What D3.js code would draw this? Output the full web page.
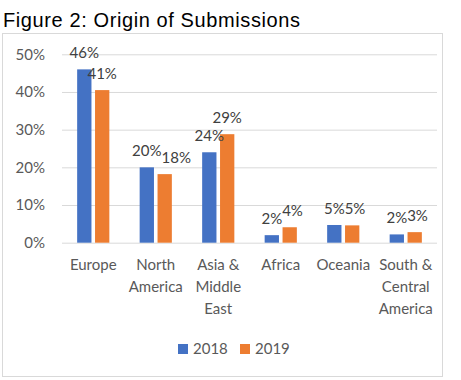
<!DOCTYPE html>
<html>
<head>
<meta charset="utf-8">
<script src="https://cdn.jsdelivr.net/npm/d3@7"></script>
<style>
  body { margin: 0; background: #fff; }
  svg text { font-family: Lato, "Open Sans", sans-serif; }
</style>
</head>
<body>
<div id="chart"></div>
<script>
// origin of submissions, grouped bars 2018 vs 2019

var regions = ["Europe", "North America", "Asia & Middle East", "Africa", "Oceania", "South & Central America"];
var years = ["2018", "2019"];
var values2018 = [0.46, 0.20, 0.24, 0.02, 0.047, 0.022];
var values2019 = [0.405, 0.182, 0.288, 0.041, 0.046, 0.028];
var yTicks = [0, 0.1, 0.2, 0.3, 0.4, 0.5];

var width = 461,
    height = 380;

var colors = { "2018": "#4472C4", "2019": "#ED7D31" };

var svg = d3.select("#chart").append("svg")
    .attr("width", width)
    .attr("height", height);

// title above the box
svg.append("text")
    .attr("x", 3)
    .attr("y", 26.5)
    .style("font-family", "'Liberation Sans', Arial, sans-serif")
    .style("font-size", "20px")
    .style("letter-spacing", "0.6px")
    .attr("fill", "#000")
    .text("Figure 2: Origin of Submissions");

// chart frame
svg.append("rect")
    .attr("x", 2.5).attr("y", 33.5)
    .attr("width", 440).attr("height", 343)
    .attr("fill", "none")
    .attr("stroke", "#D9D9D9");

var plotLeft = 62, plotRight = 437, plotTop = 54.3, plotBottom = 242.7;

var x0 = d3.scaleBand()
    .domain(regions)
    .range([plotLeft, plotRight])
    .paddingInner(0.485)
    .paddingOuter(0.2425);

var x1 = d3.scaleBand()
    .domain(years)
    .range([0, x0.bandwidth()])
    .paddingInner(0.2);

var y = d3.scaleLinear()
    .domain([0, 0.5])
    .range([plotBottom, plotTop]);

// y axis + gridlines
var yAxis = svg.append("g")
    .attr("transform", "translate(" + plotLeft + ",0)")
    .call(d3.axisLeft(y)
        .tickValues(yTicks)
        .tickFormat(d3.format(".0%"))
        .tickSizeInner(-(plotRight - plotLeft))
        .tickSizeOuter(0)
        .tickPadding(17));
yAxis.select(".domain").remove();
yAxis.selectAll(".tick line").attr("stroke", "#D9D9D9");
yAxis.selectAll(".tick text")
    .attr("fill", "#595959")
    .style("font-size", "15px")
    .style("font-family", "Lato, sans-serif");

var rows = regions.map(function(r, i) {
  return { region: r, vals: [
    { year: "2018", v: values2018[i] },
    { year: "2019", v: values2019[i] }
  ]};
});

var groups = svg.selectAll("g.region")
    .data(rows)
    .enter().append("g")
    .attr("class", "region")
    .attr("transform", function(d) { return "translate(" + x0(d.region) + ",0)"; });

groups.selectAll("rect")
    .data(function(d) { return d.vals; })
    .enter().append("rect")
    .attr("x", function(d) { return x1(d.year); })
    .attr("y", function(d) { return y(d.v); })
    .attr("width", x1.bandwidth())
    .attr("height", function(d) { return plotBottom - y(d.v); })
    .attr("fill", function(d) { return colors[d.year]; });

// data labels
groups.each(function() {
  var g = d3.select(this);
  var labels = g.selectAll("text.val")
      .data(function(d) { return d.vals; })
      .enter().append("text")
      .attr("class", "val")
      .attr("x", function(d) { return x1(d.year) + x1.bandwidth() / 2; })
      .attr("y", function(d) { return y(d.v) - 11; })
      .attr("text-anchor", "middle")
      .attr("fill", "#404040")
      .style("font-size", "15px")
      .text(function(d) { return d3.format(".0%")(d.v); });
  // push the 2019 label right if it runs into the 2018 one
  var n = labels.nodes(), a = n[0].getBBox(), b = n[1].getBBox();
  var vOverlap = Math.abs(a.y - b.y) < a.height * 0.8;
  var hOverlap = a.x + a.width - b.x;
  if (vOverlap && hOverlap > 0) {
    d3.select(n[1]).attr("x", +d3.select(n[1]).attr("x") + hOverlap);
  }
});

// category labels, wrapped to band width
svg.append("g").selectAll("text")
    .data(regions)
    .enter().append("text")
    .attr("x", function(d) { return x0(d) + x0.bandwidth() / 2; })
    .attr("y", 270)
    .attr("text-anchor", "middle")
    .attr("fill", "#595959")
    .style("font-size", "15px")
    .each(function(d) {
      var t = d3.select(this), words = d.split(" "), line = [];
      var cx = t.attr("x");
      var ts = t.append("tspan").attr("x", cx).attr("dy", 0);
      words.forEach(function(w) {
        line.push(w);
        ts.text(line.join(" "));
        if (ts.node().getComputedTextLength() > 62 && line.length > 1) {
          line.pop();
          ts.text(line.join(" "));
          line = [w];
          ts = t.append("tspan").attr("x", cx).attr("dy", 22).text(w);
        }
      });
    });

// legend
var legend = svg.append("g").selectAll("g")
    .data(years)
    .enter().append("g")
    .attr("transform", function(d, i) { return "translate(" + (178 + i * 62) + ",344)"; });
legend.append("rect")
    .attr("width", 10).attr("height", 10)
    .attr("fill", function(d) { return colors[d]; });
legend.append("text")
    .attr("x", 15).attr("y", 9.5)
    .attr("fill", "#595959")
    .style("font-size", "15px")
    .text(function(d) { return d; });
</script>
</body>
</html>
